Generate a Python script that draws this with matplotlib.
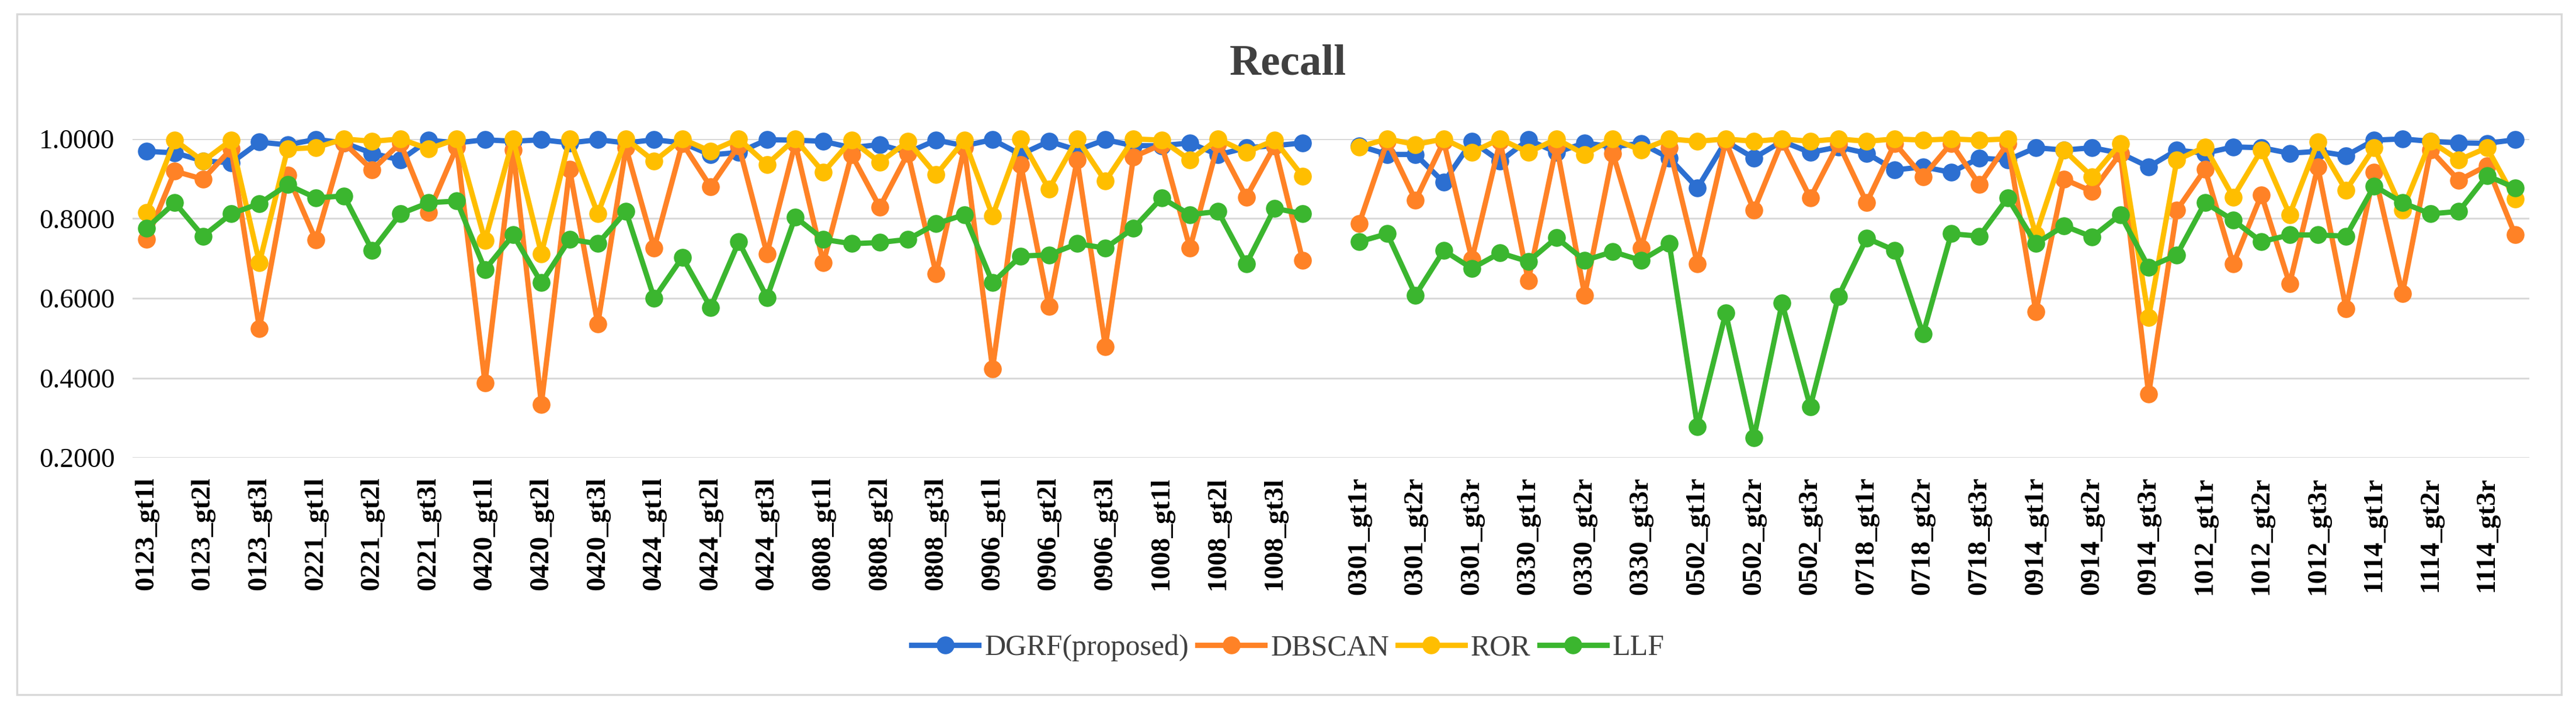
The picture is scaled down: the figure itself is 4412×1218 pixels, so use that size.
import numpy as np
import matplotlib
matplotlib.use("Agg")
import matplotlib.pyplot as plt
from matplotlib.patches import Rectangle

plt.rcParams['font.family'] = ['Liberation Serif', 'DejaVu Serif']

# category labels (only every other category carries a visible label in the original)
left_labels = ['0123_gt1l', '0123_gt2l', '0123_gt3l', '0221_gt1l', '0221_gt2l', '0221_gt3l',
               '0420_gt1l', '0420_gt2l', '0420_gt3l', '0424_gt1l', '0424_gt2l', '0424_gt3l',
               '0808_gt1l', '0808_gt2l', '0808_gt3l', '0906_gt1l', '0906_gt2l', '0906_gt3l',
               '1008_gt1l', '1008_gt2l', '1008_gt3l']
right_labels = ['0301_gt1r', '0301_gt2r', '0301_gt3r', '0330_gt1r', '0330_gt2r', '0330_gt3r',
                '0502_gt1r', '0502_gt2r', '0502_gt3r', '0718_gt1r', '0718_gt2r', '0718_gt3r',
                '0914_gt1r', '0914_gt2r', '0914_gt3r', '1012_gt1r', '1012_gt2r', '1012_gt3r',
                '1114_gt1r', '1114_gt2r', '1114_gt3r']

# values, left block (42 points), then right block (42 points)
dgrf_left = [0.969, 0.965, 0.945, 0.940, 0.992, 0.985, 0.999, 0.990, 0.964, 0.947, 0.997, 0.990,
             0.998, 0.994, 0.998, 0.990, 0.998, 0.990, 0.998, 0.990, 0.960, 0.966, 0.998, 0.997,
             0.994, 0.978, 0.986, 0.966, 0.997, 0.983, 0.998, 0.961, 0.994, 0.972, 0.998, 0.983,
             0.983, 0.990, 0.960, 0.978, 0.983, 0.990]
dgrf_right = [0.983, 0.961, 0.961, 0.891, 0.994, 0.944, 0.998, 0.966, 0.990, 0.980, 0.989, 0.952,
              0.877, 0.994, 0.952, 0.994, 0.966, 0.980, 0.964, 0.922, 0.930, 0.916, 0.952, 0.947,
              0.978, 0.972, 0.978, 0.964, 0.930, 0.972, 0.964, 0.980, 0.978, 0.964, 0.969, 0.958,
              0.997, 1.000, 0.994, 0.990, 0.989, 0.998]

dbscan_left = [0.748, 0.919, 0.899, 0.975, 0.524, 0.909, 0.746, 0.990, 0.922, 0.990, 0.815, 0.980,
               0.387, 0.972, 0.334, 0.924, 0.535, 0.978, 0.726, 0.989, 0.880, 0.983, 0.712, 0.989,
               0.689, 0.961, 0.829, 0.964, 0.661, 0.978, 0.423, 0.936, 0.580, 0.947, 0.479, 0.955,
               0.986, 0.726, 0.989, 0.854, 0.983, 0.695]
dbscan_right = [0.787, 0.994, 0.846, 0.994, 0.698, 0.994, 0.644, 0.983, 0.608, 0.964, 0.726, 0.978,
                0.686, 0.994, 0.821, 0.994, 0.852, 0.989, 0.840, 0.989, 0.905, 0.989, 0.885, 0.989,
                0.566, 0.899, 0.868, 0.964, 0.359, 0.821, 0.924, 0.686, 0.860, 0.636, 0.930, 0.574,
                0.916, 0.611, 0.972, 0.896, 0.933, 0.759]

ror_left = [0.815, 0.997, 0.944, 0.997, 0.689, 0.975, 0.978, 1.000, 0.994, 1.000, 0.975, 1.000,
            0.745, 1.000, 0.712, 1.000, 0.812, 1.000, 0.944, 1.000, 0.969, 1.000, 0.936, 1.000,
            0.916, 0.997, 0.941, 0.994, 0.910, 0.997, 0.807, 1.000, 0.874, 1.000, 0.894, 1.000,
            0.997, 0.947, 1.000, 0.966, 0.997, 0.906]
ror_right = [0.980, 1.000, 0.986, 1.000, 0.966, 1.000, 0.966, 1.000, 0.961, 1.000, 0.972, 1.000,
             0.994, 1.000, 0.994, 1.000, 0.994, 1.000, 0.994, 1.000, 0.997, 1.000, 0.997, 1.000,
             0.760, 0.972, 0.905, 0.989, 0.552, 0.947, 0.980, 0.854, 0.972, 0.810, 0.992, 0.871,
             0.978, 0.821, 0.994, 0.947, 0.978, 0.849]

llf_left = [0.776, 0.840, 0.756, 0.812, 0.838, 0.885, 0.852, 0.857, 0.720, 0.812, 0.840, 0.844,
            0.672, 0.759, 0.639, 0.748, 0.737, 0.818, 0.600, 0.703, 0.577, 0.742, 0.602, 0.804,
            0.748, 0.737, 0.740, 0.748, 0.787, 0.810, 0.639, 0.706, 0.709, 0.737, 0.726, 0.776,
            0.852, 0.810, 0.818, 0.686, 0.826, 0.812]
llf_right = [0.742, 0.762, 0.608, 0.720, 0.675, 0.714, 0.692, 0.752, 0.695, 0.717, 0.695, 0.737,
             0.278, 0.563, 0.250, 0.588, 0.328, 0.605, 0.751, 0.720, 0.510, 0.762, 0.756, 0.852,
             0.737, 0.782, 0.754, 0.810, 0.678, 0.709, 0.840, 0.796, 0.742, 0.759, 0.759, 0.756,
             0.882, 0.840, 0.812, 0.818, 0.908, 0.877]

series_names = ['DGRF(proposed)', 'DBSCAN', 'ROR', 'LLF']
colors = ['#2C6FD1', '#FF8226', '#FFBE00', '#3BB62F']


def join(left, right):
    # one empty category separates the two blocks
    return np.array(left + [np.nan] + right, dtype=float)


series = [join(dgrf_left, dgrf_right), join(dbscan_left, dbscan_right),
          join(ror_left, ror_right), join(llf_left, llf_right)]
n = len(series[0])
x = np.arange(n)

tick_pos = list(range(0, 42, 2)) + list(range(43, n, 2))
tick_text = left_labels + right_labels

fig = plt.figure(figsize=(44.12, 12.18), dpi=100)
fig.patches.append(Rectangle((0.0066, 0.023), 0.9877, 0.957, transform=fig.transFigure,
                             fill=False, edgecolor='#d9d9d9', linewidth=2.5))

ax = fig.add_axes([0.05145, 0.35632, 0.93042, 0.44828])
for vals, name, c in zip(series, series_names, colors):
    ax.plot(x, vals, color=c, linewidth=6.5, marker='o', markersize=21,
            label=name, clip_on=False)

ax.set_xlim(-0.5, n - 0.5)
ax.set_ylim(0.2, 1.0)
ax.set_yticks(np.arange(0.2, 1.01, 0.2))
ax.set_yticklabels([f'{v:.4f}' for v in np.arange(0.2, 1.01, 0.2)], fontsize=34)
ax.set_xticks(tick_pos)
ax.set_xticklabels(tick_text, rotation=90, fontsize=34, fontweight='bold')
ax.tick_params(axis='both', length=0)
ax.tick_params(axis='y', pad=22)
ax.tick_params(axis='x', pad=24)
ax.grid(axis='y', color='#d9d9d9', linewidth=2.2)
ax.set_axisbelow(True)
for s in ax.spines.values():
    s.set_visible(False)

fig.text(0.5, 0.9105, 'Recall', ha='center', va='center', fontsize=54,
         fontweight='bold', color='#404040')

fig.legend(loc='center', bbox_to_anchor=(0.5, 0.0887), ncol=4, frameon=False,
           prop={'family': ['Liberation Serif', 'DejaVu Serif'], 'size': 36},
           handlelength=2.3, handletextpad=0.2, columnspacing=0.3,
           labelcolor='#404040')

fig.savefig('out.png', dpi=100)
